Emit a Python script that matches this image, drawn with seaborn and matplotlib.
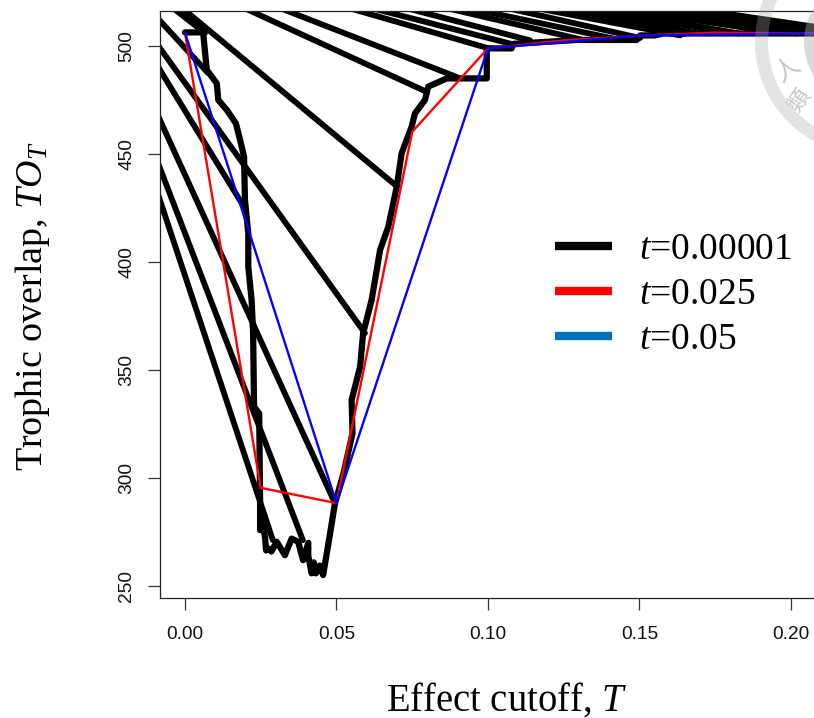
import numpy as np
import pandas as pd
import matplotlib
matplotlib.use("Agg")
import matplotlib.pyplot as plt
from matplotlib.lines import Line2D
from matplotlib.patches import Wedge, Circle
from matplotlib.transforms import IdentityTransform
import seaborn as sns

# main trajectory for t=0.00001
curve_T = [0.0, 0.0060, 0.0072, 0.0105, 0.0110, 0.0138, 0.0168, 0.0182, 0.0195, 0.0198, 0.0209, 0.0209, 0.0220,
           0.0225, 0.0228, 0.0245, 0.0248, 0.0248, 0.0252, 0.0264, 0.0268, 0.0275, 0.0285, 0.0303, 0.0330, 0.0352, 0.0374,
           0.0382, 0.0390, 0.0407, 0.0407, 0.0418, 0.0425, 0.0432, 0.0445, 0.0456, 0.0479, 0.0495, 0.0523, 0.0553,
           0.0550, 0.0578, 0.0588, 0.0616, 0.0644, 0.0671, 0.0699,
           0.0715, 0.0748, 0.0759, 0.0792, 0.0803, 0.0864, 0.0996, 0.0996, 0.1078, 0.1085, 0.1293, 0.1491, 0.1502,
           0.1551, 0.1580, 0.2500]
curve_TO = [506.3, 506.3, 488.9, 482.7, 475.0, 470.4, 464.2, 456.5, 448.8, 428.7, 413.3, 397.8, 382.4,
            367.0, 333.0, 329.9, 289.8, 275.9, 282.0, 272.8, 266.5, 267.4, 266.0, 270.5, 264.3, 272.0, 270.5,
            266.0, 262.0, 270.0, 264.0, 255.9, 261.0, 255.9, 259.5, 255.1, 274.4, 288.3, 302.1, 320.7,
            336.1, 351.5, 367.0, 382.4, 405.6, 416.3, 434.9,
            450.3, 462.6, 468.8, 475.0, 481.2, 485.0, 485.0, 498.9, 498.9, 501.0, 502.8, 502.8, 504.9,
            504.9, 505.8, 505.8]

# long jumps of the t=0.00001 trajectory
jump_start_T = [-0.01485, -0.01485, -0.01485, -0.01485, -0.01485, -0.01485, -0.01155, -0.00825, 0.00495, 0.01815,
                0.0449, 0.05116, 0.0627, 0.0748, 0.0809, 0.0944, 0.1016, 0.1215, 0.1117, 0.1145, 0.1238, 0.1347, 0.1482,
                0.1066, 0.1188, 0.1304, 0.1403]
jump_start_TO = [521.8, 511.9, 504.0, 486.0, 467.6, 456.5, 525.9, 526.1, 527.0, 524.8,
                 521.3, 521.3, 521.3, 521.3, 521.3, 521.3, 521.3, 521.3, 521.3, 521.3, 521.3, 521.3, 521.3,
                 521.3, 521.3, 521.3, 521.3]
jump_end_T = [0.0076, 0.0594, 0.0191, 0.0495, 0.0389, 0.0290, 0.0066, 0.0700, 0.0799, 0.0898,
              0.1000, 0.1079, 0.1139, 0.1314, 0.1436, 0.1502, 0.1634, 0.1809, 0.1683, 0.1799, 0.1964, 0.2086, 0.2228,
              0.1647, 0.1828, 0.2017, 0.2139]
jump_end_TO = [487.5, 367.1, 426.4, 288.4, 271.3, 271.3, 506.0, 435.0, 478.7, 485.6,
               499.0, 500.9, 502.6, 502.8, 502.8, 503.7, 504.9, 506.0, 506.0, 506.0, 506.0, 505.8, 505.8,
               505.5, 505.8, 505.8, 505.8]

red_T = [0.0, 0.025, 0.05, 0.075, 0.10, 0.125, 0.15, 0.175, 0.20, 0.225]
red_TO = [506.2, 295.5, 288.4, 460.3, 498.9, 502.6, 504.8, 506.2, 505.9, 505.9]
blue_T = [0.0, 0.05, 0.10, 0.15, 0.20, 0.25]
blue_TO = [506.2, 288.4, 498.9, 504.8, 505.8, 505.8]

legend_labels = ["$t$=0.00001", "$t$=0.025", "$t$=0.05"]
legend_colors = ["#000000", "#ff0000", "#0070c0"]
x_ticks = [0.00, 0.05, 0.10, 0.15, 0.20]
y_ticks = [250, 300, 350, 400, 450, 500]

sns.set_theme(style="ticks")
plt.rcParams["font.family"] = ["Liberation Sans", "DejaVu Sans"]
plt.rcParams["mathtext.fontset"] = "custom"
plt.rcParams["mathtext.rm"] = "Liberation Serif"
plt.rcParams["mathtext.it"] = "Liberation Serif:italic"
plt.rcParams["text.color"] = "black"
plt.rcParams["axes.labelcolor"] = "black"

W, H = 814, 718
fig = plt.figure(figsize=(W / 100, H / 100), dpi=100)
ax = fig.add_axes([159.5 / W, (H - 598) / H, (W - 159.5) / W, 587 / H])

jump_ids = np.repeat(np.arange(len(jump_start_T)), 2)
jump_df = pd.DataFrame({
    "T": np.column_stack([jump_start_T, jump_end_T]).ravel(),
    "TO": np.column_stack([jump_start_TO, jump_end_TO]).ravel(),
    "seg": jump_ids,
})
sns.lineplot(data=jump_df, x="T", y="TO", units="seg", estimator=None, sort=False,
             color="black", lw=4.2, ax=ax, solid_capstyle="round", legend=False)
sns.lineplot(x=curve_T, y=curve_TO, estimator=None, sort=False, color="black", lw=4.5, ax=ax,
             solid_capstyle="round", solid_joinstyle="round", legend=False)
sns.lineplot(x=red_T, y=red_TO, estimator=None, sort=False, color="#ff0000", lw=1.7, ax=ax, legend=False)
sns.lineplot(x=blue_T, y=blue_TO, estimator=None, sort=False, color="#0000ff", lw=1.7, ax=ax, legend=False)

ax.set_xlim(-0.0084, 0.2076)
ax.set_ylim(244.5, 516.2)
ax.set_xticks(x_ticks)
ax.set_xticklabels([f"{v:.2f}" for v in x_ticks])
ax.set_yticks(y_ticks)
ax.set_yticklabels([str(v) for v in y_ticks], rotation=90, va="center")
ax.tick_params(axis="both", length=8.4, width=0.9, color="#333333", labelsize=13.8, labelcolor="#111111")
ax.tick_params(axis="x", pad=12)
ax.tick_params(axis="y", pad=9)
for name in ["left", "bottom", "top"]:
    ax.spines[name].set_visible(True)
    ax.spines[name].set_linewidth(0.9)
    ax.spines[name].set_color("#222222")
ax.spines["right"].set_visible(False)

ax.set_xlabel("Effect cutoff, $T$", fontsize=27.8, family="Liberation Serif", va="center")
ax.set_ylabel("Trophic overlap, $TO_T$", fontsize=27.4, family="Liberation Serif", va="center")
ax.xaxis.set_label_coords((507 - 159.5) / 654.5, -(700 - 598) / 587)
ax.yaxis.set_label_coords((33 - 159.5) / 654.5, (598 - 306) / 587)

handles = [Line2D([], [], color=c, lw=6, solid_capstyle="butt") for c in legend_colors]
ax.legend(handles, legend_labels, loc="center left", frameon=False,
          bbox_to_anchor=((555 - 159.5) / 654.5, (598 - 294.5) / 587),
          prop={"family": "Liberation Serif", "size": 27},
          handlelength=1.52, handletextpad=0.72, labelspacing=0.28, borderpad=0, borderaxespad=0)

# faint seal watermark in the upper right corner
cx, cy = 868, H - 42
fig.add_artist(Wedge((cx, cy), 113, 0, 360, width=13, transform=IdentityTransform(),
                     facecolor="#a8a8a8", edgecolor="none", alpha=0.32, zorder=5))
fig.add_artist(Circle((cx, cy), 64, transform=IdentityTransform(),
                      facecolor="#a8a8a8", edgecolor="none", alpha=0.42, zorder=5))
fig.text(788 / W, (H - 70) / H, "人", family=["Noto Sans CJK TC", "DejaVu Sans"], fontsize=18,
         color="#c4c4c4", rotation=35, ha="center", va="center", zorder=6)
fig.text(799 / W, (H - 100) / H, "類", family=["Noto Sans CJK TC", "DejaVu Sans"], fontsize=16,
         color="#c4c4c4", rotation=55, ha="center", va="center", zorder=6)

fig.savefig("out.png", dpi=100)
